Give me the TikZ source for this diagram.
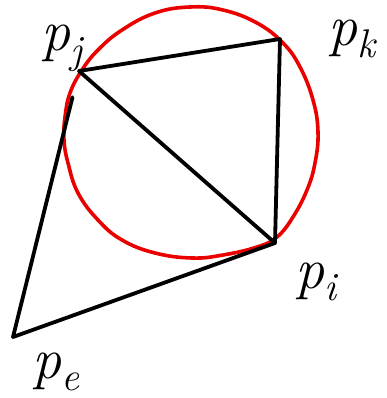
\documentclass[tikz,border=0pt]{standalone}
\usepackage{fontspec}
\newcommand{\ptlbl}[1]{\itshape p\raisebox{-0.22em}{\fontsize{40}{40}\selectfont #1}}
\begin{document}
\begin{tikzpicture}[x=1pt,y=-1pt,
  edge/.style={draw=black,line width=3.8pt,line cap=round,line join=round},
  ring/.style={draw=red!92!black,line width=3.6pt},
  lbl/.style={inner sep=0pt,font=\fontsize{58}{60}\selectfont}]
\useasboundingbox (0,0) rectangle (387,398);
\coordinate (pj) at (79,71);
\coordinate (pk) at (280,39);
\coordinate (pi) at (275,243);
\coordinate (pe) at (13,337);
\draw[ring] plot[smooth cycle,tension=0.7] coordinates {
 (190,7) (155,13) (122,30) (98,50) (82,70) (70,93) (65,117) (64,140)
 (68,163) (78,193) (98,220) (122,240) (155,253) (192,258) (223,255)
 (257,247) (277,237) (293,217) (307,190) (315,163) (318,132)
 (313,100) (300,67) (283,43) (257,23) (223,10)};
\draw[edge] (pj) -- (pk);
\draw[edge] (pk) -- (pi);
\draw[edge] (pj) -- (pi);
\draw[edge] (pe) -- (pi);
\draw[edge,shorten >=27pt] (pe) -- (pj);
\node[lbl] (lj) at (62,48) {\ptlbl{j}};
\node[lbl] (lk) at (352,39) {\ptlbl{k}};
\node[lbl] (li) at (316,282) {\ptlbl{i}};
\node[lbl] (le) at (56,372) {\ptlbl{e}};
\end{tikzpicture}
\end{document}
